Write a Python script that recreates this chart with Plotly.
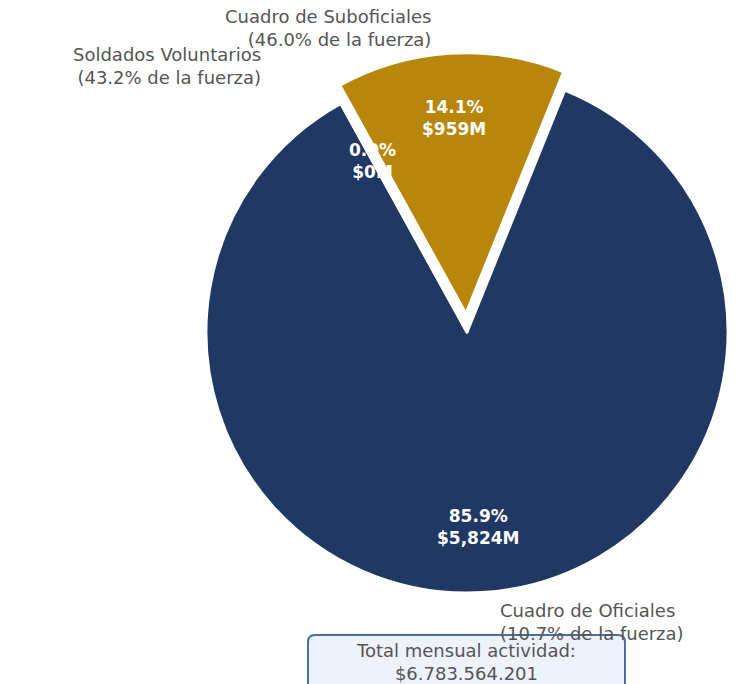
import plotly.graph_objects as go
import math

# Monthly payroll by personnel category (millions of pesos)
categorias = ["Cuadro de Oficiales", "Cuadro de Suboficiales", "Soldados Voluntarios"]
montos_millones = [5824, 959, 0]
pct_fuerza = [10.7, 46.0, 43.2]
colores = ["#1F3864", "#B8860B", "#1F3864"]
separacion = [0, 0.07, 0]
total_mensual = 6783564201

W, H = 747, 684
FONT = "DejaVu Sans"

# Pie placement (pixels) and rotation (degrees clockwise from 12 o'clock)
cx, cy, R = 467, 332, 261
pull_max = max(separacion)
half = R * (1 + pull_max)
rotacion = 22

fig = go.Figure(
    go.Pie(
        labels=categorias,
        values=montos_millones,
        sort=False,
        direction="counterclockwise",
        rotation=rotacion,
        pull=separacion,
        marker=dict(colors=colores, line=dict(color="white", width=3)),
        textinfo="none",
        hoverinfo="label+percent",
        showlegend=False,
        domain=dict(
            x=[(cx - half) / W, min(1.0, (cx + half) / W)],
            y=[1 - (cy + half) / H, 1 - (cy - half) / H],
        ),
    )
)

total = sum(montos_millones)
annotations = []

# Percentage / amount labels inside each wedge.
# With counterclockwise direction the first wedge ends at the rotation angle
# and the following wedges continue backwards from there.
ang = rotacion + 360 * montos_millones[0] / total
for nombre, v, p in zip(categorias, montos_millones, separacion):
    span = 360 * v / total
    mid = ang - span / 2
    ang -= span
    r = 0.75 * R + p * R
    px = cx + r * math.sin(math.radians(mid))
    py = cy - r * math.cos(math.radians(mid))
    annotations.append(dict(
        x=px / W, y=1 - py / H, xref="paper", yref="paper",
        text=f"<b>{100 * v / total:.1f}%<br>${v:,.0f}M</b>",
        showarrow=False, xanchor="center", yanchor="middle",
        font=dict(family=FONT, size=17, color="white"),
    ))

# Category names with share of the force
label_pos = {
    "Cuadro de Oficiales": (498, 622, "left"),
    "Cuadro de Suboficiales": (433, 28, "right"),
    "Soldados Voluntarios": (263, 66, "right"),
}
for nombre, pf in zip(categorias, pct_fuerza):
    x, y, anchor = label_pos[nombre]
    annotations.append(dict(
        x=x / W, y=1 - y / H, xref="paper", yref="paper",
        text=f"{nombre}<br>({pf:.1f}% de la fuerza)",
        showarrow=False, xanchor=anchor, yanchor="middle", align=anchor,
        font=dict(family=FONT, size=18, color="#555555"),
    ))

# Total box at the bottom
total_txt = f"{total_mensual:,}".replace(",", ".")
annotations.append(dict(
    x=466 / W, y=1 - 662 / H, xref="paper", yref="paper",
    text=f"Total mensual actividad:<br>${total_txt}",
    showarrow=False, xanchor="center", yanchor="middle", align="center",
    font=dict(family=FONT, size=18, color="#555555"),
))

bx0, bx1, by0, by1, rc = 308, 625, 635, 700, 7
def P(x, y):
    return f"{x / W:.5f},{1 - y / H:.5f}"
box_path = (
    f"M {P(bx0 + rc, by0)} L {P(bx1 - rc, by0)} Q {P(bx1, by0)} {P(bx1, by0 + rc)} "
    f"L {P(bx1, by1 - rc)} Q {P(bx1, by1)} {P(bx1 - rc, by1)} "
    f"L {P(bx0 + rc, by1)} Q {P(bx0, by1)} {P(bx0, by1 - rc)} "
    f"L {P(bx0, by0 + rc)} Q {P(bx0, by0)} {P(bx0 + rc, by0)} Z"
)

fig.update_layout(
    width=W, height=H,
    margin=dict(l=0, r=0, t=0, b=0),
    paper_bgcolor="white", plot_bgcolor="white",
    annotations=annotations,
    shapes=[dict(type="path", path=box_path, xref="paper", yref="paper",
                 fillcolor="#EEF2FB", line=dict(color="#4A6FA5", width=2),
                 layer="below")],
)

fig.write_html("out.html")
